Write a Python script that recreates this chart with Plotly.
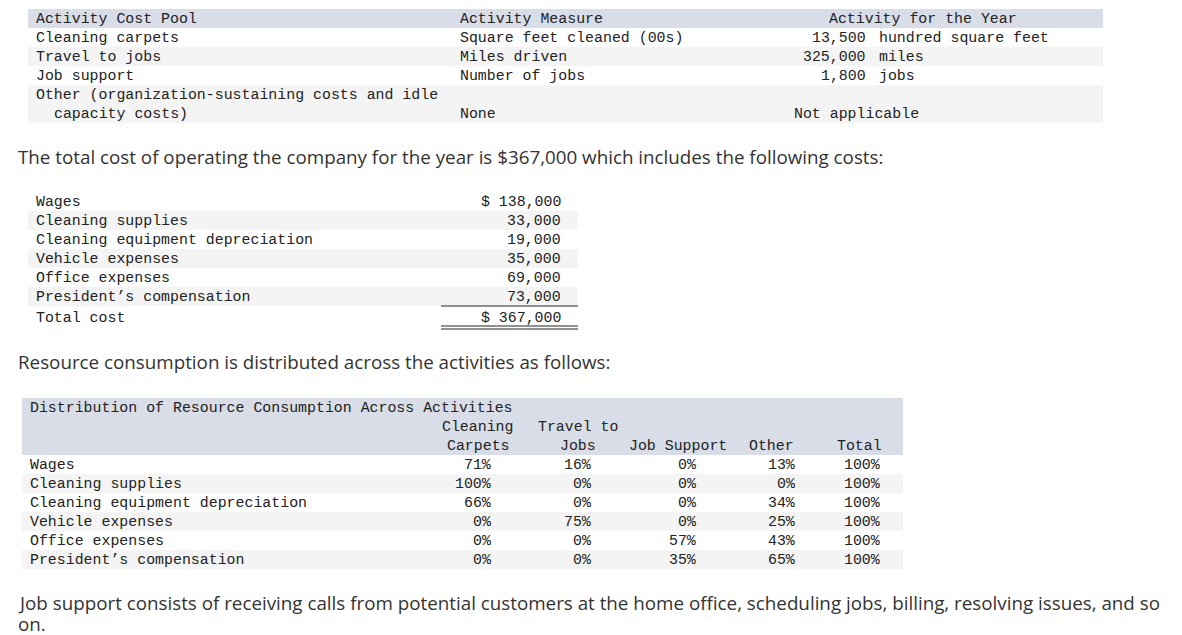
import plotly.graph_objects as go

# --- data ---
pool_names = ["Cleaning carpets", "Travel to jobs", "Job support"]
pool_measures = ["Square feet cleaned (00s)", "Miles driven", "Number of jobs"]
pool_activity = [13500, 325000, 1800]
pool_units = ["hundred square feet", "miles", "jobs"]

cost_items = ["Wages", "Cleaning supplies", "Cleaning equipment depreciation",
              "Vehicle expenses", "Office expenses", "President\u2019s compensation"]
cost_amounts = [138000, 33000, 19000, 35000, 69000, 73000]

dist_cleaning = [71, 100, 66, 0, 0, 0]
dist_travel = [16, 0, 0, 75, 0, 0]
dist_support = [0, 0, 0, 0, 57, 35]
dist_other = [13, 0, 34, 25, 43, 65]
dist_total = [100, 100, 100, 100, 100, 100]

MONO = "Liberation Mono, DejaVu Sans Mono, monospace"
SANS = "Open Sans, Lato, Arial, sans-serif"
TXT = "#222222"
HEAD_BG = "#d9dde7"
ALT_BG = "#f4f4f4"
RH = 19
MSIZE = 14.9
SSIZE = 18.8

fig = go.Figure()
shapes = []
ann = []


def text(x, y, s, anchor="left", font=MONO, size=MSIZE, color=TXT):
    # right-anchored annotations sit a few px left because of their padding
    shift = 3 if anchor == "right" else 0
    ann.append(dict(x=x, y=y, text=s, showarrow=False, xanchor=anchor, yanchor="middle",
                    xshift=shift, font=dict(family=font, size=size, color=color)))


def band(x0, x1, y0, y1, color):
    shapes.append(dict(type="rect", x0=x0, x1=x1, y0=y0, y1=y1, fillcolor=color,
                       line=dict(width=0), layer="below"))


# --- table 1: activity cost pools ---
t1_top = 8
band(30, 1105, t1_top, t1_top + RH, HEAD_BG)
text(36, t1_top + RH / 2, "Activity Cost Pool")
text(460, t1_top + RH / 2, "Activity Measure")
text(925, t1_top + RH / 2, "Activity for the Year", anchor="center")
for i, (n, m, a, u) in enumerate(zip(pool_names, pool_measures, pool_activity, pool_units)):
    yc = t1_top + RH * (i + 1) + RH / 2
    if i % 2 == 1:
        band(30, 1105, yc - RH / 2, yc + RH / 2, ALT_BG)
    text(36, yc, n)
    text(867, yc, f"{a:,}", anchor="right")
    text(460, yc, m)
    text(879, yc, u)
y_other = t1_top + RH * 4
band(30, 1105, y_other, y_other + 2 * RH, ALT_BG)
text(36, y_other + RH / 2, "Other (organization-sustaining costs and idle")
text(54, y_other + RH * 1.5, "capacity costs)")
text(460, y_other + RH * 1.5, "None")
text(858, y_other + RH * 1.5, "Not applicable", anchor="center")

text(18, 156, "The total cost of operating the company for the year is $367,000 which includes the following costs:",
     font=SANS, size=SSIZE, color="#333333")

# --- table 2: costs ---
t2_top = 191
for i, (item, amt) in enumerate(zip(cost_items, cost_amounts)):
    yc = t2_top + RH * i + RH / 2
    if i % 2 == 1:
        band(30, 580, yc - RH / 2, yc + RH / 2, ALT_BG)
    text(36, yc, item)
    text(562, yc, ("$ " if i == 0 else "") + f"{amt:,}", anchor="right")
y_tot = t2_top + RH * 6 + 12
text(36, y_tot, "Total cost")
text(562, y_tot, f"$ {sum(cost_amounts):,}", anchor="right")
shapes.append(dict(type="line", x0=443, x1=580, y0=305, y1=305, line=dict(color="#222", width=1)))
shapes.append(dict(type="line", x0=443, x1=580, y0=325, y1=325, line=dict(color="#222", width=1)))
shapes.append(dict(type="line", x0=443, x1=580, y0=328, y1=328, line=dict(color="#222", width=1)))

text(18, 361, "Resource consumption is distributed across the activities as follows:",
     font=SANS, size=SSIZE, color="#333333")

# --- table 3: distribution ---
t3_top = 397
band(24, 905, t3_top, t3_top + 3 * RH, HEAD_BG)
text(30, t3_top + RH / 2, "Distribution of Resource Consumption Across Activities")
col_right = [492, 592, 697, 796, 881]
col_center = [480, 580, 680, 773, 861]
head1 = ["Cleaning", "Travel to", "", "", ""]
head2 = ["Carpets", "Jobs", "Job Support", "Other", "Total"]
for c, h1, h2 in zip(col_center, head1, head2):
    if h1:
        text(c, t3_top + RH * 1.5, h1, anchor="center")
    text(c, t3_top + RH * 2.5, h2, anchor="center")
cols = [dist_cleaning, dist_travel, dist_support, dist_other, dist_total]
for i, item in enumerate(cost_items):
    yc = t3_top + RH * (3 + i) + RH / 2
    if i % 2 == 1:
        band(24, 905, yc - RH / 2, yc + RH / 2, ALT_BG)
    text(30, yc, item)
    for xr, col in zip(col_right, cols):
        text(xr, yc, f"{col[i]}%", anchor="right")

text(18, 602, "Job support consists of receiving calls from potential customers at the home office, scheduling jobs, billing, resolving issues, and so",
     font=SANS, size=SSIZE, color="#333333")
text(18, 623, "on.", font=SANS, size=SSIZE, color="#333333")

# page body has an 8px margin, so the figure is shrunk and the ranges offset
W, H = 1174, 627
fig.update_layout(
    width=W, height=H, margin=dict(l=0, r=0, t=0, b=0),
    paper_bgcolor="white", plot_bgcolor="white",
    xaxis=dict(range=[10, 10 + W], visible=False, fixedrange=True),
    yaxis=dict(range=[7 + H, 7], visible=False, fixedrange=True),
    shapes=shapes, annotations=ann, showlegend=False,
)
fig.write_html("out.html")
